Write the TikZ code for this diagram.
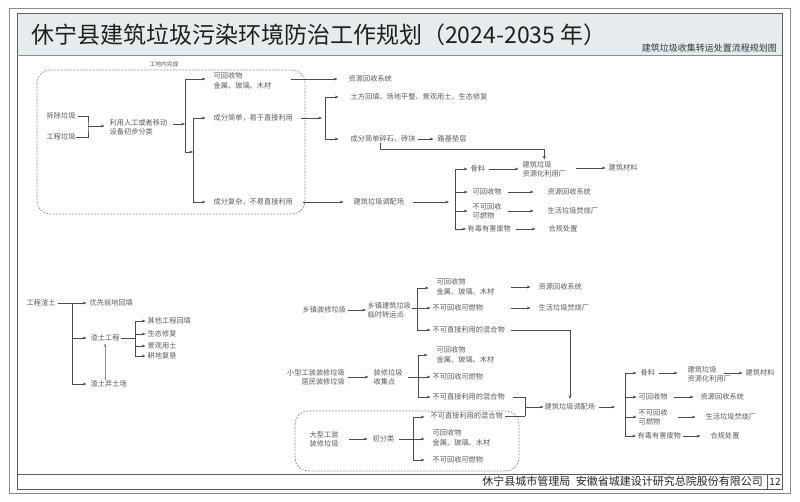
\documentclass[tikz,border=0pt]{standalone}
\usepackage{fontspec}
\setmainfont{Noto Sans CJK SC}
\usetikzlibrary{arrows.meta}
\definecolor{txt}{HTML}{5A5A5A}
\definecolor{lc}{HTML}{4D4D4D}
\definecolor{band}{HTML}{E6ECEE}
\definecolor{frameA}{HTML}{8C8C8C}
\definecolor{frameB}{HTML}{5C5C5C}
\tikzset{
  lbl/.style={font=\fontsize{7.2}{8.8}\selectfont, text=txt, inner sep=0.5pt, anchor=west, align=left},
  lbltwo/.style={font=\fontsize{7.2}{9.6}\selectfont},
  ln/.style={draw=lc, line width=0.45pt},
  arr/.style={ln, -{Stealth[length=3.6pt,width=2.8pt]}},
  dashbox/.style={draw=frameA, line width=0.7pt, dash pattern=on 1.8pt off 1.4pt, rounded corners=13pt},
}
\begin{document}
\begin{tikzpicture}[x=1pt,y=-1pt]
\useasboundingbox (0,0) rectangle (800,502);
\fill[white] (0,0) rectangle (800,502);
% frame
\fill[band] (17,13) rectangle (782,55);
\draw[frameA, line width=0.6pt] (9,8) rectangle (790,493);
\draw[frameB, line width=0.6pt] (17,13) rectangle (782,489);
\draw[frameA, line width=0.5pt] (17,55) -- (782,55);
\draw[frameB, line width=0.5pt] (17,474) -- (782,474);
\draw[frameB, line width=0.5pt] (767,474) -- (767,489);
\node[font=\fontsize{23}{26}\selectfont, text=black!88, anchor=west, inner sep=0] (title) at (31,35) {休宁县建筑垃圾污染环境防治工作规划（2024-2035 年）};
\node[font=\fontsize{9}{10}\selectfont, text=black!80, anchor=east, inner sep=0] (sub) at (777,48.5) {建筑垃圾收集转运处置流程规划图};
\node[font=\fontsize{11}{12}\selectfont, text=black!85, anchor=east, inner sep=0] (f1) at (570.5,481.5) {休宁县城市管理局};
\node[font=\fontsize{11}{12}\selectfont, text=black!85, anchor=east, inner sep=0] (f2) at (763,481.5) {安徽省城建设计研究总院股份有限公司};
\node[font=\fontsize{10}{11}\selectfont, text=black!85, inner sep=0] (pg) at (775,481.5) {12};

% ===== top section =====
\draw[dashbox] (37,70) rectangle (305,214);
\node[font=\fontsize{5.8}{7}\selectfont, text=txt, inner sep=0.5pt] (gdn) at (164,64) {工地内完成};
\node[lbl] (cc) at (46,116) {拆除垃圾};
\node[lbl] (gc) at (46,137) {工程垃圾};
\node[lbl] (ly) at (109,127.5) {利用人工或者移动\\设备初步分类};
\node[lbl,lbltwo] (hs1) at (213,81) {可回收物\\金属、玻璃、木材};
\node[lbl] (jd) at (213,118) {成分简单，易于直接利用};
\node[lbl] (fz) at (213,202) {成分复杂，不易直接利用};
\node[lbl] (zy1) at (348,79) {资源回收系统};
\node[lbl] (tf) at (350,97) {土方回填、场地平整、景观用土、生态修复};
\node[lbl] (sk) at (350,139) {成分简单碎石、砖块};
\node[lbl] (lj) at (437,139) {路基垫层};
\node[lbl] (zh1) at (522,169) {建筑垃圾\\资源化利用厂};
\node[lbl] (dp1) at (353,202) {建筑垃圾调配场};
\node[lbl] (gl1) at (470,169) {骨料};
\node[lbl] (kh1) at (472,192) {可回收物};
\node[lbl] (bk1) at (472,211) {不可回收\\可燃物};
\node[lbl] (yd1) at (467,229) {有毒有害废物};
\node[lbl] (cl1) at (608,168) {建筑材料};
\node[lbl] (zy2) at (547,192) {资源回收系统};
\node[lbl] (sh1) at (547,211) {生活垃圾焚烧厂};
\node[lbl] (hg1) at (548,229) {合规处置};

\coordinate (b1) at (88,126);
\coordinate (j1) at (185,124);
\coordinate (v1t) at (185,79);
\coordinate (v1b) at (185,152);
\coordinate (v2t) at (193,118);
\coordinate (v2b) at (193,202);
\coordinate (a1s) at (291,79);
\coordinate (v3t) at (325,97);
\coordinate (v3b) at (325,139);
\coordinate (k1) at (380,149);
\coordinate (v4t) at (455,169);
\coordinate (v4b) at (455,229);

\draw[ln, shorten <=1.5pt] (cc.east) -| (b1) |- (gc.east);
\draw[arr, shorten >=4.5pt] (b1) -- (b1 -| ly.west);
\draw[arr, shorten <=5pt] (j1 -| ly.east) -- (j1);
\draw[ln] (v1t) -- (v1b);
\draw[arr, shorten >=7.5pt] (v1t) -- (v1t -| hs1.west);
\draw[arr] (v1b) -- (v1b -| v2t);
\draw[ln] (v2t) -- (v2b);
\draw[arr, shorten >=7.5pt] (v2t) -- (v2t -| jd.west);
\draw[arr, shorten >=7.5pt] (v2b) -- (v2b -| fz.west);
\draw[arr, shorten >=10.5pt] (a1s) -- (a1s -| zy1.west);
\draw[arr, shorten <=7.3pt, shorten >=3pt] (jd.east) -- (jd.east -| v3t);
\draw[ln] (v3t) -- (v3b);
\draw[arr, shorten >=11.5pt] (v3t) -- (v3t -| tf.west);
\draw[arr, shorten >=11.5pt] (v3b) -- (v3b -| sk.west);
\draw[arr, shorten <=1.7pt, shorten >=3.5pt] (sk.east) -- (lj.west);
\draw[arr, shorten >=1pt] (sk.south -| k1) -- (k1) -| (zh1.north);
\draw[arr, shorten <=9.3pt, shorten >=9.5pt] (fz.east) -- (dp1.west);
\draw[arr, shorten <=8pt, shorten >=6pt] (dp1.east) -- (dp1.east -| v4t);
\draw[ln] (v4t) -- (v4b);
\draw[arr, shorten >=2.5pt] (v4t) -- (v4t -| gl1.west);
\draw[arr, shorten >=4.5pt] (kh1.west -| v4t) -- (kh1.west);
\draw[arr, shorten >=4.5pt] (bk1.west -| v4t) -- (bk1.west);
\draw[arr, shorten >=1pt] (v4b) -- (v4b -| yd1.west);
\draw[arr, shorten <=3pt, shorten >=3.5pt] (gl1.east) -- (gl1.east -| zh1.west);
\draw[arr, shorten <=9.3pt, shorten >=2.5pt] (zh1.east |- cl1.west) -- (cl1.west);
\draw[arr, shorten <=5.7pt, shorten >=13.5pt] (kh1.east) -- (zy2.west);
\draw[arr, shorten <=5.7pt, shorten >=13.5pt] (bk1.east) -- (sh1.west);
\draw[arr, shorten <=4.3pt, shorten >=12.5pt] (yd1.east) -- (hg1.west);

% ===== left middle: 渣土 =====
\node[lbl] (gczt) at (26,303) {工程渣土};
\node[lbl] (yx) at (89,303) {优先就地回填};
\node[lbl] (ztgc) at (90,338) {渣土工程};
\node[lbl] (qt) at (90,384) {渣土弃土场};
\node[lbl] (qtgc) at (147,321) {其他工程回填};
\node[lbl] (st) at (147,334) {生态修复};
\node[lbl] (jg) at (147,346) {景观用土};
\node[lbl] (gd) at (147,356) {耕地复垦};
\coordinate (m1t) at (72,303);
\coordinate (m1b) at (72,384);
\coordinate (u1) at (105,360);
\coordinate (m2t) at (135,321);
\coordinate (m2b) at (135,356);
\draw[arr, shorten <=1.7pt, shorten >=2.5pt] (gczt.east) -- (yx.west);
\draw[ln] (m1t) -- (m1b);
\draw[arr, shorten >=3.5pt] (ztgc.west -| m1t) -- (ztgc.west);
\draw[arr, shorten >=3.5pt] (m1b) -- (m1b -| qt.west);
\draw[arr, draw=black!45, line width=1pt, shorten >=1.5pt] (qt.north -| u1) -- (ztgc.south -| u1);
\draw[ln, shorten <=0.7pt] (ztgc.east) -- (ztgc.east -| m2t);
\draw[ln] (m2t) -- (m2b);
\draw[arr, shorten >=1.5pt] (m2t) -- (m2t -| qtgc.west);
\draw[arr, shorten >=1.5pt] (st.west -| m2t) -- (st.west);
\draw[arr, shorten >=1.5pt] (jg.west -| m2t) -- (jg.west);
\draw[arr, shorten >=1.5pt] (m2b) -- (m2b -| gd.west);

% ===== 乡镇 =====
\node[lbl] (xz) at (302,310) {乡镇装修垃圾};
\node[lbl] (xzjz) at (367,310.5) {乡镇建筑垃圾\\临时转运点};
\node[lbl,lbltwo] (kh2) at (436,287) {可回收物\\金属、玻璃、木材};
\node[lbl] (bk2) at (432,308) {不可回收可燃物};
\node[lbl] (hh2) at (432,330) {不可直接利用的混合物};
\node[lbl] (zy3) at (538,287) {资源回收系统};
\node[lbl] (sh2) at (538,308) {生活垃圾焚烧厂};
\coordinate (m3t) at (417,288);
\coordinate (m3b) at (417,330);
\draw[arr, shorten <=1.3pt, shorten >=1pt] (xz.east) -- (xz.east -| xzjz.west);
\draw[arr, shorten >=1.5pt] (xzjz.east |- bk2.west) -- (bk2.west);
\draw[ln] (m3t) -- (m3b);
\draw[arr, shorten >=7.5pt] (m3t) -- (m3t -| kh2.west);
\draw[arr, shorten >=1.5pt] (m3b) -- (m3b -| hh2.west);
\draw[arr, shorten <=16pt, shorten >=7.5pt] (kh2.east) -- (kh2.east -| zy3.west);
\draw[arr, shorten <=27pt, shorten >=7.5pt] (bk2.east) -- (sh2.west);

% ===== 装修 =====
\node[lbl, anchor=east, align=right] (xx) at (345.5,377) {小型工装装修垃圾\\居民装修垃圾};
\node[lbl] (zxsj) at (373,377.5) {装修垃圾\\收集点};
\node[lbl,lbltwo] (kh3) at (436,354.5) {可回收物\\金属、玻璃、木材};
\node[lbl] (bk3) at (432,377) {不可回收可燃物};
\node[lbl] (hh3) at (432,397) {不可直接利用的混合物};
\node[lbl] (dp2) at (544,407) {建筑垃圾调配场};
\coordinate (m4t) at (418,355);
\coordinate (m4b) at (418,397);
\coordinate (m5t) at (525,397);
\coordinate (m5m) at (525,407);
\coordinate (m5b) at (525,416);
\draw[arr, shorten <=5.5pt, shorten >=4pt] (hh2.east) -| (dp2.north);
\draw[arr, shorten <=2.5pt, shorten >=4.5pt] (xx.east) -- (xx.east -| zxsj.west);
\draw[arr, shorten <=4.7pt, shorten >=1.5pt] (zxsj.east |- bk3.west) -- (bk3.west);
\draw[ln] (m4t) -- (m4b);
\draw[arr, shorten >=8.5pt] (m4t) -- (m4t -| kh3.west);
\draw[arr, shorten >=1.5pt] (m4b) -- (m4b -| hh3.west);
\draw[ln, shorten <=7.5pt] (hh3.east) -- (hh3.east -| m5t);
\draw[ln] (m5t) -- (m5b);
\draw[arr, shorten >=0.5pt] (m5m) -- (m5m -| dp2.west);

% ===== 大型 =====
\draw[dashbox] (295,411) rectangle (519,471);
\node[lbl] (dx) at (309,439) {大型工装\\装修垃圾};
\node[lbl] (cfl) at (372,439) {初分类};
\node[lbl] (hh4) at (430,416) {不可直接利用的混合物};
\node[lbl,lbltwo] (kh4) at (432,438) {可回收物\\金属、玻璃、木材};
\node[lbl] (bk4) at (432,460) {不可回收可燃物};
\coordinate (m6t) at (413,417);
\coordinate (m6m) at (413,439);
\coordinate (m6b) at (413,460);
\draw[arr, shorten <=9.7pt, shorten >=4.5pt] (dx.east) -- (cfl.west);
\draw[ln, shorten <=4pt] (cfl.east) -- (cfl.east -| m6t);
\draw[ln] (m6t) -- (m6b);
\draw[arr, shorten >=5.5pt] (m6t) -- (m6t -| hh4.west);
\draw[arr, shorten >=7.5pt] (m6m) -- (m6m -| kh4.west);
\draw[arr, shorten >=7.5pt] (m6b) -- (m6b -| bk4.west);
\draw[ln, shorten <=2pt] (hh4.east) -- (hh4.east -| m5b);

% ===== right group =====
\node[lbl] (gl2) at (640,373) {骨料};
\node[lbl] (kh5) at (638,397) {可回收物};
\node[lbl] (bk5) at (638,417) {不可回收\\可燃物};
\node[lbl] (yd2) at (637,436) {有毒有害废物};
\node[lbl] (zh2) at (687,374) {建筑垃圾\\资源化利用厂};
\node[lbl] (cl2) at (745,373) {建筑材料};
\node[lbl] (zy4) at (700,397) {资源回收系统};
\node[lbl] (sh3) at (705,417) {生活垃圾焚烧厂};
\node[lbl] (hg2) at (710,436) {合规处置};
\coordinate (m7t) at (625,373);
\coordinate (m7b) at (625,436);
\draw[arr, shorten <=3pt, shorten >=10pt] (dp2.east) -- (dp2.east -| m7t);
\draw[ln] (m7t) -- (m7b);
\draw[arr, shorten >=3.5pt] (m7t) -- (m7t -| gl2.west);
\draw[arr, shorten >=1.5pt] (kh5.west -| m7t) -- (kh5.west);
\draw[arr, shorten >=1.5pt] (bk5.west -| m7t) -- (bk5.west);
\draw[arr, shorten >=1pt] (m7b) -- (m7b -| yd2.west);
\draw[arr, shorten <=3pt, shorten >=9.5pt] (gl2.east) -- (gl2.east -| zh2.west);
\draw[arr, shorten <=-7.7pt, shorten >=2.5pt] (zh2.east |- cl2.west) -- (cl2.west);
\draw[arr, shorten <=5.7pt, shorten >=6.5pt] (kh5.east) -- (zy4.west);
\draw[arr, shorten <=9.7pt, shorten >=9.5pt] (bk5.east) -- (sh3.west);
\draw[arr, shorten <=1.3pt, shorten >=9.5pt] (yd2.east) -- (hg2.west);
\end{tikzpicture}
\end{document}
